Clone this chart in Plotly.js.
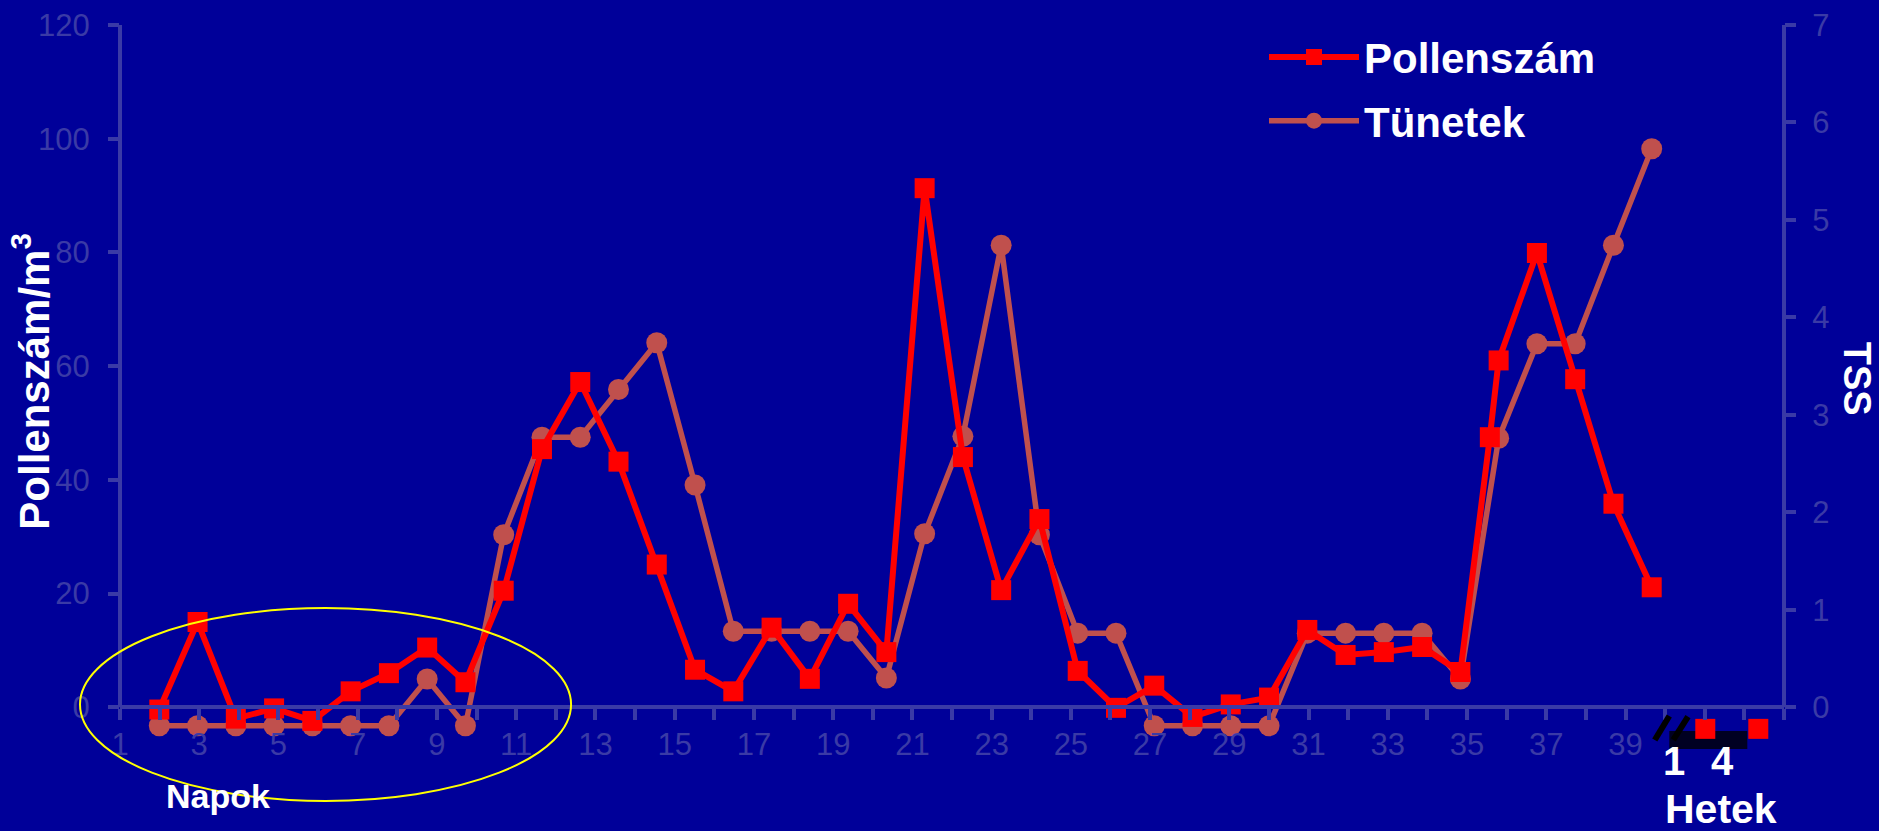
<!DOCTYPE html>
<html>
<head>
<meta charset="utf-8">
<script src="https://cdn.plot.ly/plotly-3.0.1.min.js"></script>
<style>html,body{margin:0;padding:0;background:#000099;}#chart{width:1879px;height:831px;}</style>
</head>
<body>
<div id="chart"></div>
<script>
// ---- data ----
const days = [1,2,3,4,5,6,7,8,9,10,11,12,13,14,15,16,17,18,19,20,21,22,23,24,25,26,27,28,29,30,31,32,33,34,35,36,37,38,39,40];
const pollenDays = [1,2,3,4,5,6,7,8,9,10,11,12,13,14,15,16,17,18,19,20,21,22,23,24,25,26,27,28,29,30,31,32,33,34,35,35.77,36,37,38,39,40];
const pollenCounts = [-0.4,15.0,-2.0,-0.2,-2.4,2.8,6.0,10.5,4.4,20.5,45.4,57.2,43.2,25.1,6.6,2.8,14.0,5.0,18.2,9.7,91.3,44.0,20.6,33.1,6.4,-0.1,3.8,-1.7,0.5,1.7,13.6,9.2,9.7,10.6,6.2,47.5,61.0,79.9,57.7,35.8,21.1];
const symptomScores = [-0.19,-0.19,-0.19,-0.19,-0.19,-0.19,-0.19,0.29,-0.19,1.77,2.77,2.77,3.26,3.74,2.28,0.78,0.78,0.78,0.78,0.30,1.78,2.78,4.74,1.77,0.76,0.76,-0.19,-0.19,-0.19,-0.19,0.76,0.76,0.76,0.76,0.29,2.76,3.73,3.73,4.74,5.73];
const weeks = [1, 4];
const weekPollen = [-3.8, -3.8];
const xTickCount = 43;
const xTickLabelNumbers = [1,3,5,7,9,11,13,15,17,19,21,23,25,27,29,31,33,35,37,39];
const pollenTicks = [0,20,40,60,80,100,120];
const tssTicks = [0,1,2,3,4,5,6,7];
const seriesNames = ['Pollenszám', 'Tünetek'];

// ---- styling ----
const BG = '#000099';
const AX = '#3a3aa6';
const FONT = 'Liberation Sans, Arial, sans-serif';
const xRange = [-0.027, 43.457];
const xStep = (xRange[1] - xRange[0]) / (xTickCount - 1);
const tickVals = xTickLabelNumbers.map(k => xRange[0] + (k - 1) * xStep);
const tickText = xTickLabelNumbers.map(k => String(k));
const pollenRange = [-4, 120];
const tssRange = [pollenRange[0] * 7 / 120, 7];

const traces = [
  {
    x: days, y: symptomScores, xaxis: 'x', yaxis: 'y',
    name: seriesNames[1], legendrank: 2, legendgroup: 'b',
    mode: 'lines+markers', cliponaxis: false,
    line: {color: '#C0504D', width: 5.5},
    marker: {symbol: 'circle', size: 21, color: '#C0504D'}
  },
  {
    x: pollenDays, y: pollenCounts, xaxis: 'x', yaxis: 'y2',
    name: seriesNames[0], legendrank: 1, legendgroup: 'a',
    mode: 'lines+markers', cliponaxis: false,
    line: {color: '#FF0000', width: 6},
    marker: {symbol: 'square', size: 20, color: '#FF0000'}
  },
  {
    x: weeks, y: weekPollen, xaxis: 'x2', yaxis: 'y2',
    showlegend: false, mode: 'markers', cliponaxis: false,
    marker: {symbol: 'square', size: 20, color: '#FF0000'}
  }
];

const tickStyle = {ticks: 'outside', ticklen: 11, tickwidth: 4, tickcolor: AX,
  showgrid: false, zeroline: false, tickfont: {family: FONT, size: 31, color: AX}};

const layout = {
  width: 1879, height: 831,
  paper_bgcolor: BG, plot_bgcolor: BG,
  margin: {l: 120, r: 95.3, t: 25, b: 100.95},
  showlegend: true,
  legend: {x: 0.6875, y: 1.0025, xanchor: 'left', yanchor: 'top', bgcolor: 'rgba(0,0,0,0)',
    font: {family: FONT, size: 42, color: '#FFFFFF', weight: 'bold'},
    tracegroupgap: 6, itemwidth: 90},
  xaxis: Object.assign({}, tickStyle, {
    range: xRange, anchor: 'free',
    position: -pollenRange[0] / (pollenRange[1] - pollenRange[0]),
    tickmode: 'array', tickvals: tickVals, ticktext: tickText,
    minor: {tick0: xRange[0], dtick: xStep, ticks: 'outside', ticklen: 11, tickwidth: 4, tickcolor: AX, showgrid: false},
    showline: true, linewidth: 4, linecolor: AX, ticklabelstandoff: -2
  }),
  xaxis2: {overlaying: 'x', range: [-88.7, 5.454], visible: false},
  yaxis: Object.assign({}, tickStyle, {
    side: 'right', range: tssRange, tickmode: 'array', tickvals: tssTicks,
    showline: false, ticklabelstandoff: 10
  }),
  yaxis2: Object.assign({}, tickStyle, {
    side: 'left', overlaying: 'y', range: pollenRange, tickmode: 'array', tickvals: pollenTicks,
    showline: false, ticklabelstandoff: 12
  }),
  shapes: [
    {type: 'line', xref: 'paper', yref: 'y2', x0: 0, x1: 0, y0: 0, y1: 120, line: {color: AX, width: 4}},
    {type: 'line', xref: 'paper', yref: 'y', x0: 1, x1: 1, y0: 0, y1: 7, line: {color: AX, width: 4}},
    {type: 'circle', xref: 'paper', yref: 'paper', x0: -0.02404, x1: 0.27108, y0: -0.1006, y1: 0.1731,
      line: {color: '#FFFF00', width: 2}},
    {type: 'rect', xref: 'paper', yref: 'paper', layer: 'below', x0: 0.93107, x1: 0.97795, y0: -0.02688, y1: -0.00135,
      fillcolor: '#000022', line: {width: 0}},
    {type: 'line', xref: 'paper', yref: 'paper', x0: 0.92234, x1: 0.93106, y0: -0.01411, y1: 0.01993, line: {color: '#000000', width: 6}},
    {type: 'line', xref: 'paper', yref: 'paper', x0: 0.93346, x1: 0.94230, y0: -0.01411, y1: 0.01893, line: {color: '#000000', width: 6}}
  ],
  annotations: [
    {xref: 'paper', yref: 'paper', x: -0.0535, y: 0.494, textangle: -90, showarrow: false,
      xanchor: 'center', yanchor: 'middle', text: 'Pollenszám/m<sup>3</sup>',
      font: {family: FONT, size: 42, color: '#FFFFFF', weight: 'bold'}},
    {xref: 'paper', yref: 'paper', x: 1.04405, y: 0.4979, textangle: 90, showarrow: false,
      xanchor: 'center', yanchor: 'middle', text: 'TSS',
      font: {family: FONT, size: 38, color: '#FFFFFF', weight: 'bold'}},
    {xref: 'paper', yref: 'paper', x: 0.0589, y: -0.0935, showarrow: false,
      xanchor: 'center', yanchor: 'middle', text: 'Napok',
      font: {family: FONT, size: 34, color: '#FFFFFF', weight: 'bold'}},
    {xref: 'paper', yref: 'paper', x: 0.93406, y: -0.0439, showarrow: false,
      xanchor: 'center', yanchor: 'middle', text: String(weeks[0]),
      font: {family: FONT, size: 40, color: '#FFFFFF', weight: 'bold'}},
    {xref: 'paper', yref: 'paper', x: 0.96291, y: -0.0439, showarrow: false,
      xanchor: 'center', yanchor: 'middle', text: String(weeks[1]),
      font: {family: FONT, size: 40, color: '#FFFFFF', weight: 'bold'}},
    {xref: 'paper', yref: 'paper', x: 0.96231, y: -0.1125, showarrow: false,
      xanchor: 'center', yanchor: 'middle', text: 'Hetek',
      font: {family: FONT, size: 41, color: '#FFFFFF', weight: 'bold'}}
  ]
};

Plotly.newPlot('chart', traces, layout, {staticPlot: true, displayModeBar: false});
</script>
</body>
</html>
